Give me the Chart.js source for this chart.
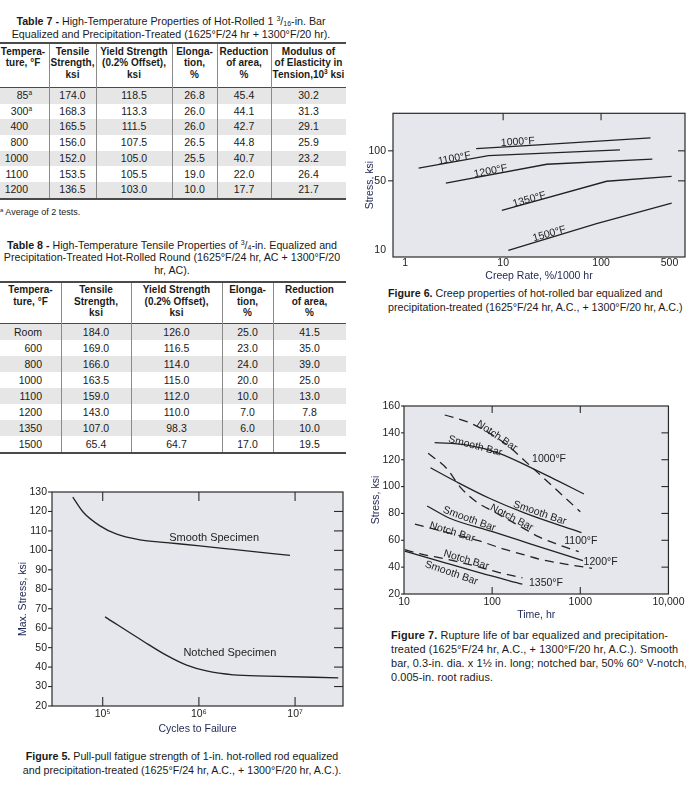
<!DOCTYPE html>
<html><head><meta charset="utf-8">
<script src="https://cdn.jsdelivr.net/npm/chart.js@4.4.1/dist/chart.umd.min.js"></script>
<style>
html,body{margin:0;padding:0;background:#fff}
body{width:686px;height:793px;position:relative;overflow:hidden;font-family:"Liberation Sans",Arial,Helvetica,sans-serif;color:#1a1a1a}
.abs{position:absolute}
.ttl{font-size:10.7px;line-height:12.5px;text-align:center}
.cap{font-size:10.7px;line-height:13.6px}
b{font-weight:bold}
.fr .n{font-size:7px;position:relative;top:-4px;line-height:0}
.fr .d{font-size:7px;position:relative;top:1px;line-height:0}
.hc{position:absolute;font-weight:bold;font-size:10px;line-height:11.6px;text-align:center;white-space:nowrap}
.hc sup{font-size:6.5px;vertical-align:4px;line-height:0}
.dc{position:absolute;font-size:10.5px;text-align:center;white-space:nowrap}
.nt{font-size:6.5px;position:relative;top:-4px;margin-right:-4px;line-height:0}
.rule{position:absolute;background:#4a4a4a}
.vl{position:absolute;background:#8a8a8a;width:1px}
.cv{position:absolute}
</style>
</head><body>

<div class="abs ttl" style="left:0;top:15px;width:342px"><b>Table 7 -</b> High-Temperature Properties of Hot-Rolled 1 <span class="fr"><span class="n">3</span>/<span class="d">16</span></span>-in. Bar<br>Equalized and Precipitation-Treated (1625°F/24 hr + 1300°F/20 hr).</div>
<div id="t7" class="abs" style="left:0;top:0"></div>
<div class="abs" style="left:0;top:206px;font-size:9px;line-height:12px"><span style="font-size:6px;position:relative;top:-3px">a</span> Average of 2 tests.</div>

<div class="abs ttl" style="left:0;top:238.5px;width:344px"><b>Table 8 -</b> High-Temperature Tensile Properties of <span class="fr"><span class="n">3</span>/<span class="d">4</span></span>-in. Equalized and<br>Precipitation-Treated Hot-Rolled Round (1625°F/24 hr, AC + 1300°F/20<br>hr, AC).</div>
<div id="t8" class="abs" style="left:0;top:0"></div>

<div class="cv" style="left:0;top:480px;width:346px;height:258px"><canvas id="c5"></canvas></div>
<div class="abs cap" style="left:0;top:750px;width:364px;text-align:center"><b>Figure 5.</b> Pull-pull fatigue strength of 1-in. hot-rolled rod equalized<br>and precipitation-treated (1625°F/24 hr, A.C., + 1300°F/20 hr, A.C.).</div>

<div class="cv" style="left:360px;top:100px;width:326px;height:185px"><canvas id="c6"></canvas></div>
<div class="abs cap" style="left:388px;top:287px;width:300px;white-space:nowrap"><b>Figure 6.</b> Creep properties of hot-rolled bar equalized and<br>precipitation-treated (1625°F/24 hr, A.C., + 1300°F/20 hr, A.C.)</div>

<div class="cv" style="left:360px;top:395px;width:326px;height:230px"><canvas id="c7"></canvas></div>
<div class="abs cap" style="left:391px;top:628px;width:300px;white-space:nowrap;line-height:14px;font-size:10.9px;letter-spacing:0.1px"><b>Figure 7.</b> Rupture life of bar equalized and precipitation-<br>treated (1625°F/24 hr, A.C., + 1300°F/20 hr, A.C.). Smooth<br>bar, 0.3-in. dia. x 1½ in. long; notched bar, 50% 60° V-notch,<br>0.005-in. root radius.</div>

<script>
// ---------------- TABLE DATA ----------------
const t7Head = ['Tempera-<br>ture, °F','Tensile<br>Strength,<br>ksi','Yield Strength<br>(0.2% Offset),<br>ksi','Elonga-<br>tion,<br>%','Reduction<br>of area,<br>%','Modulus of<br>of Elasticity in<br>Tension,10<sup>3</sup> ksi'];
const t7Temp    = ['85','300','400','800','1000','1100','1200'];
const t7Note    = ['a','a','','','','',''];
const t7Tensile = ['174.0','168.3','165.5','156.0','152.0','153.5','136.5'];
const t7Yield   = ['118.5','113.3','111.5','107.5','105.0','105.5','103.0'];
const t7Elong   = ['26.8','26.0','26.0','26.5','25.5','19.0','10.0'];
const t7RA      = ['45.4','44.1','42.7','44.8','40.7','22.0','17.7'];
const t7Mod     = ['30.2','31.3','29.1','25.9','23.2','26.4','21.7'];

const t8Head = ['Tempera-<br>ture, °F','Tensile<br>Strength,<br>ksi','Yield Strength<br>(0.2% Offset),<br>ksi','Elonga-<br>tion,<br>%','Reduction<br>of area,<br>%'];
const t8Temp    = ['Room','600','800','1000','1100','1200','1350','1500'];
const t8Tensile = ['184.0','169.0','166.0','163.5','159.0','143.0','107.0','65.4'];
const t8Yield   = ['126.0','116.5','114.0','115.0','112.0','110.0','98.3','64.7'];
const t8Elong   = ['25.0','23.0','24.0','20.0','10.0','7.0','6.0','17.0'];
const t8RA      = ['41.5','35.0','39.0','25.0','13.0','7.8','10.0','19.5'];

// ---------------- FIGURE 5 DATA ----------------
const f5XTicks = [1e5, 1e6, 1e7];
const f5XLabels = ['10\u2075','10\u2076','10\u2077'];
const f5YTicks = [20,30,40,50,60,70,80,90,100,110,120,130];
const f5SmoothX = [48800, 62800, 93700, 140000, 244000, 462000, 1020000, 2260000, 8850000];
const f5SmoothY = [127.4, 119.6, 112.6, 108.3, 105.4, 104.0, 102.3, 100.5, 97.4];
const f5NotchX  = [105700, 264000, 462000, 746000, 1200000, 2280000, 5070000, 28100000];
const f5NotchY  = [65.8, 53.3, 46.0, 41.0, 38.0, 36.0, 35.4, 34.5];
const f5Notes   = ['Smooth Specimen','Notched Specimen'];
const f5NoteX   = [1.44e6, 2.1e6];
const f5NoteY   = [106.7, 47.6];

// ---------------- FIGURE 6 DATA ----------------
const f6XTicks = [1, 10, 100, 500];
const f6XLabels = ['1','10','100','500'];
const f6YTicks = [10, 50, 100];
const f6X1000 = [5.3, 19, 320];   const f6Y1000 = [105.4, 113.5, 135];
const f6X1100 = [1.37, 7.08, 156]; const f6Y1100 = [67, 89.3, 102.3];
const f6X1200 = [2.6, 27.9, 334];  const f6Y1200 = [47.3, 73.3, 82.6];
const f6X1350 = [9.7, 114, 526];   const f6Y1350 = [25.3, 49.5, 55.4];
const f6X1500 = [11.3, 90, 526];   const f6Y1500 = [10, 18.6, 29.9];
const f6Notes = ['1000°F','1100°F','1200°F','1350°F','1500°F'];
const f6NoteX = [14.1, 3.16, 7.4, 18.4, 29.4];
const f6NoteY = [126, 86, 64, 33.2, 15];
const f6NoteRot = [-3.6, -11, -11, -16, -16];

// ---------------- FIGURE 7 DATA ----------------
const f7XTicks = [10, 100, 1000, 10000];
const f7XLabels = ['10','100','1000','10,000'];
const f7YTicks = [20,40,60,80,100,120,140,160];
const f7S1000X = [22.3, 50.8, 120, 286, 550, 1100]; const f7S1000Y = [132.7, 131, 124.8, 113.6, 104.4, 94.5];
const f7N1000X = [29, 58, 140, 275, 1000];          const f7N1000Y = [153.3, 147, 132, 115, 81.3];
const f7S1100X = [20, 39.3, 93, 240, 1030];          const f7S1100Y = [114, 103.6, 91.3, 80, 65.7];
const f7N1100X = [18.8, 30.3, 44.7, 66, 110, 213, 340, 550, 960]; const f7N1100Y = [124.8, 113.6, 98.7, 88.7, 80.5, 70, 62.5, 57, 51.5];
const f7S1200X = [18.3, 33, 101, 270, 1070];         const f7S1200Y = [85.5, 76.4, 66.4, 57.4, 44.8];
const f7N1200X = [13.3, 28, 72, 130, 221, 340, 676, 1360]; const f7N1200Y = [72.1, 66.5, 59.5, 53.8, 49.5, 46, 42.3, 39.1];
const f7S1350X = [10.2, 30, 75, 220];                const f7S1350Y = [52, 43, 35.5, 27.3];
const f7N1350X = [10.2, 15, 30, 60, 120, 221];       const f7N1350Y = [53, 50, 46, 41.3, 36, 32];
const f7Notes = ['Notch Bar','Smooth Bar','1000°F','Smooth Bar','Notch Bar','1100°F','Smooth Bar','Notch Bar','1200°F','Notch Bar','Smooth Bar','1350°F'];
const f7NoteX = [115, 64.7, 442, 350, 169, 1014, 55.5, 35.6, 1700, 51.3, 34.8, 408];
const f7NoteY = [138.4, 131, 121.3, 81.1, 77.6, 60.2, 76.6, 66.9, 44.6, 46.1, 36.4, 29];
const f7NoteRot = [34, 15, 0, 19, 27, 0, 20, 17, 0, 17, 19, 0];

// ---------------- TABLE BUILDER ----------------
function buildTable(el, cfg){
  const total = cfg.colW.reduce((a,b)=>a+b,0);
  let h = '';
  const L = cfg.left, T = cfg.top;
  h += `<div class="rule" style="left:${L}px;top:${T}px;width:${total}px;height:2px"></div>`;
  const hy = T + 2, ry = hy + cfg.headH;
  let x = L;
  cfg.head.forEach((t,i)=>{
    h += `<div class="hc" style="left:${x}px;top:${hy + cfg.headPad}px;width:${cfg.colW[i]}px">${t}</div>`;
    x += cfg.colW[i];
  });
  h += `<div class="rule" style="left:${L}px;top:${ry}px;width:${total}px;height:1px"></div>`;
  const body = ry + 1;
  const n = cfg.cols[0].length;
  for (let r=0;r<n;r++){
    const y = body + r*cfg.rowH;
    if (r%2===0) h += `<div class="abs" style="left:${L}px;top:${y}px;width:${total}px;height:${cfg.rowH}px;background:#e6e6e6"></div>`;
    let cx = L;
    cfg.cols.forEach((col,c)=>{
      let txt = col[r];
      let style = `left:${cx}px;top:${y}px;width:${cfg.colW[c]}px;height:${cfg.rowH}px;line-height:${cfg.rowH}px;`;
      if (c===0){
        style += `text-align:right;box-sizing:border-box;padding-right:${cfg.firstPad}px;`;
        if (cfg.notes && cfg.notes[r]) txt += `<span class="nt">${cfg.notes[r]}</span>`;
      }
      h += `<div class="dc" style="${style}">${txt}</div>`;
      cx += cfg.colW[c];
    });
  }
  const bottom = body + n*cfg.rowH;
  h += `<div class="rule" style="left:${L}px;top:${bottom}px;width:${total}px;height:2px"></div>`;
  let vx = L;
  for (let i=0;i<cfg.colW.length-1;i++){
    vx += cfg.colW[i];
    h += `<div class="vl" style="left:${vx}px;top:${T+2}px;height:${bottom-T-2}px"></div>`;
  }
  el.innerHTML = h;
}
buildTable(document.getElementById('t7'), {
  left:-3, top:42, colW:[52,47,76,45,54,75], headH:43, headPad:1.5, rowH:15.7, firstPad:21,
  head:t7Head, cols:[t7Temp,t7Tensile,t7Yield,t7Elong,t7RA,t7Mod], notes:t7Note
});
buildTable(document.getElementById('t8'), {
  left:0, top:281, colW:[61,70,91,51,73], headH:40, headPad:1, rowH:16, firstPad:19,
  head:t8Head, cols:[t8Temp,t8Tensile,t8Yield,t8Elong,t8RA]
});

// ---------------- CHART HELPERS ----------------
Chart.defaults.font.family = '"Liberation Sans", Arial, Helvetica, sans-serif';
Chart.defaults.color = '#222';
Chart.defaults.animation = false;

const framePlugin = {
  id:'frame',
  beforeDraw(chart, args, o){
    const {ctx, chartArea:a} = chart;
    ctx.save(); ctx.fillStyle = o.bg; ctx.fillRect(a.left, a.top, a.right-a.left, a.bottom-a.top); ctx.restore();
  },
  afterDraw(chart, args, o){
    const {ctx, chartArea:a, scales:{x, y}} = chart;
    ctx.save();
    ctx.strokeStyle = '#2a2a2a'; ctx.lineWidth = 1.2;
    ctx.strokeRect(a.left, a.top, a.right-a.left, a.bottom-a.top);
    ctx.lineWidth = 1.1;
    const seg = (x1,y1,x2,y2)=>{ctx.beginPath();ctx.moveTo(x1,y1);ctx.lineTo(x2,y2);ctx.stroke();};
    (o.top||[]).forEach(v=>{const p=x.getPixelForValue(v); seg(p,a.top,p,a.top+o.len);});
    (o.bottom||[]).forEach(v=>{const p=x.getPixelForValue(v); seg(p,a.bottom,p,a.bottom-o.len);});
    (o.right||[]).forEach(v=>{const p=y.getPixelForValue(v); seg(a.right,p,a.right-o.len,p);});
    (o.left||[]).forEach(v=>{const p=y.getPixelForValue(v); seg(a.left,p,a.left-o.out,p);});
    ctx.restore();
  }
};
const notesPlugin = {
  id:'notes',
  afterDatasetsDraw(chart, args, o){
    const {ctx, scales:{x, y}} = chart;
    ctx.save(); ctx.fillStyle = '#222'; ctx.font = o.font; ctx.textBaseline = 'alphabetic';
    o.text.forEach((t,i)=>{
      const px = x.getPixelForValue(o.x[i]), py = y.getPixelForValue(o.y[i]);
      ctx.save(); ctx.translate(px, py); ctx.rotate((o.rot ? o.rot[i] : 0)*Math.PI/180);
      ctx.textAlign = 'center'; ctx.fillText(t, 0, 4); ctx.restore();
    });
    ctx.restore();
  }
};
function line(xs, ys, opt){
  opt = opt || {};
  return {
    data: xs.map((v,i)=>({x:v, y:ys[i]})),
    borderColor:'#222', borderWidth:1.3, pointRadius:0, fill:false,
    tension: opt.straight ? 0 : 0.4, cubicInterpolationMode: opt.straight ? 'default' : 'monotone',
    borderDash: opt.dash ? [9,6] : []
  };
}
function axis(o){
  return {
    type:o.type, min:o.min, max:o.max,
    afterBuildTicks: s => { s.ticks = o.ticks.map(v=>({value:v})); },
    afterFit: s => { if (o.w!==undefined) s.width = o.w; if (o.h!==undefined) s.height = o.h; },
    grid:{display:false, drawTicks:false, tickLength:0}, border:{display:false},
    ticks:{ autoSkip:false, maxRotation:0, minRotation:0, padding:o.pad, color:'#222',
      font:{size:o.fs||10.5}, callback:(v,i)=> o.labels ? o.labels[i] : String(o.ticks[i]) },
    title:{ display:true, text:o.title, color:'#1d2652', font:{size:10.5}, padding:o.tpad }
  };
}

// ---------------- FIGURE 5 ----------------
new Chart(document.getElementById('c5'), {
  type:'line',
  data:{ datasets:[ line(f5SmoothX, f5SmoothY), line(f5NotchX, f5NotchY) ] },
  options:{
    responsive:true, maintainAspectRatio:false, animation:false,
    layout:{ padding:{top:12, right:3, left:0, bottom:0} },
    plugins:{ legend:{display:false}, tooltip:{enabled:false},
      frame:{ bg:'#e6e7ec', top:f5XTicks, bottom:f5XTicks, right:f5YTicks.slice(1,-1), left:f5YTicks, len:9, out:4 },
      notes:{ font:'11px "Liberation Sans", Arial, sans-serif', text:f5Notes, x:f5NoteX, y:f5NoteY } },
    scales:{
      x: axis({type:'logarithmic', min:29700, max:3.15e7, ticks:f5XTicks, labels:f5XLabels, h:32, pad:2, fs:10.5,
               title:'Cycles to Failure', tpad:{top:0,bottom:2.4}}),
      y: axis({type:'linear', min:20, max:130, ticks:f5YTicks, w:52, pad:5, fs:10.5,
               title:'Max. Stress, ksi', tpad:{top:16.4,bottom:0}})
    }
  },
  plugins:[framePlugin, notesPlugin]
});

// ---------------- FIGURE 6 ----------------
new Chart(document.getElementById('c6'), {
  type:'line',
  data:{ datasets:[
    line(f6X1000, f6Y1000, {straight:true}), line(f6X1100, f6Y1100, {straight:true}),
    line(f6X1200, f6Y1200, {straight:true}), line(f6X1350, f6Y1350, {straight:true}),
    line(f6X1500, f6Y1500, {straight:true}) ] },
  options:{
    responsive:true, maintainAspectRatio:false, animation:false,
    layout:{ padding:{top:10, right:1, left:0, bottom:0} },
    plugins:{ legend:{display:false}, tooltip:{enabled:false},
      frame:{ bg:'#e6e7ec', top:[10,100], right:[50,100], left:[50,100], len:7, out:5 },
      notes:{ font:'10.5px "Liberation Sans", Arial, sans-serif', text:f6Notes, x:f6NoteX, y:f6NoteY, rot:f6NoteRot } },
    scales:{
      x: axis({type:'logarithmic', min:0.75, max:720, ticks:f6XTicks, labels:f6XLabels, h:28, pad:0,
               title:'Creep Rate, %/1000 hr', tpad:{top:0,bottom:3}}),
      y: axis({type:'logarithmic', min:8.6, max:238, ticks:f6YTicks, w:33, pad:7,
               title:'Stress, ksi', tpad:{top:3.7,bottom:0}})
    }
  },
  plugins:[framePlugin, notesPlugin]
});

// ---------------- FIGURE 7 ----------------
new Chart(document.getElementById('c7'), {
  type:'line',
  data:{ datasets:[
    line(f7S1000X, f7S1000Y), line(f7N1000X, f7N1000Y, {dash:true}),
    line(f7S1100X, f7S1100Y), line(f7N1100X, f7N1100Y, {dash:true}),
    line(f7S1200X, f7S1200Y), line(f7N1200X, f7N1200Y, {dash:true}),
    line(f7S1350X, f7S1350Y), line(f7N1350X, f7N1350Y, {dash:true}) ] },
  options:{
    responsive:true, maintainAspectRatio:false, animation:false,
    layout:{ padding:{top:11, right:16, left:0, bottom:0} },
    plugins:{ legend:{display:false}, tooltip:{enabled:false},
      frame:{ bg:'#e6e7ec', top:[100,1000], bottom:[100,1000], right:f7YTicks.slice(1,-1), left:f7YTicks, len:7, out:3 },
      notes:{ font:'10.5px "Liberation Sans", Arial, sans-serif', text:f7Notes, x:f7NoteX, y:f7NoteY, rot:f7NoteRot } },
    scales:{
      x: axis({type:'logarithmic', min:10, max:10000, ticks:f7XTicks, labels:f7XLabels, h:31, pad:1.5,
               title:'Time, hr', tpad:{top:0,bottom:3.7}}),
      y: axis({type:'linear', min:20, max:160, ticks:f7YTicks, w:44, pad:4,
               title:'Stress, ksi', tpad:{top:9.5,bottom:0}})
    }
  },
  plugins:[framePlugin, notesPlugin]
});
</script>
</body></html>
